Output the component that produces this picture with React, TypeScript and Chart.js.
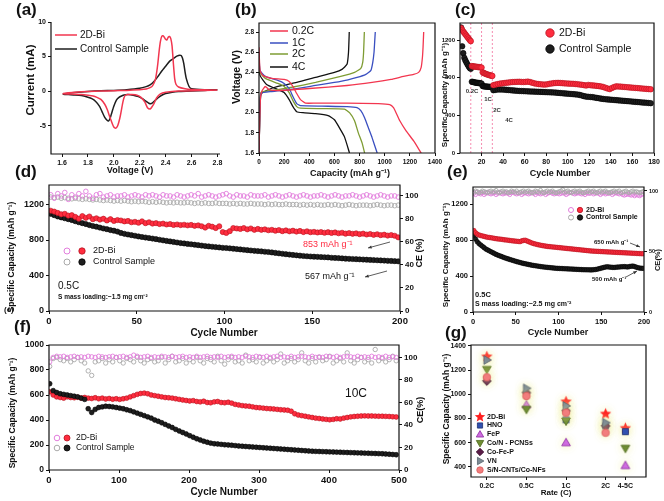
import React, { useEffect, useRef } from "react";
import { Chart, registerables } from "chart.js";

Chart.register(...registerables);

const FONT = "Arial, 'Liberation Sans', Helvetica, sans-serif";

// ================= (a) cyclic voltammetry: [voltage, current] =================
const cvBi: [number, number][] = [
  [2.8, 0.15], [2.7, 0.1], [2.6, 0.05], [2.5, 0], [2.45, -0.05], [2.4, -0.15], [2.36, -0.4], [2.33, -1.0],
  [2.31, -1.8], [2.29, -2.4], [2.28, -2.6], [2.26, -2.4], [2.24, -1.6], [2.21, -0.9], [2.18, -0.6], [2.14, -0.5],
  [2.11, -0.5], [2.09, -0.6], [2.08, -0.9], [2.07, -1.6], [2.06, -2.6], [2.05, -3.6], [2.04, -4.4], [2.03, -5.0],
  [2.02, -5.3], [2.01, -5.35], [2.0, -5.2], [1.99, -4.8], [1.97, -3.8], [1.95, -2.7], [1.93, -1.9], [1.9, -1.2],
  [1.87, -0.9], [1.84, -0.7], [1.8, -0.6], [1.75, -0.5], [1.7, -0.45], [1.65, -0.42], [1.61, -0.4],
  [1.61, -0.35], [1.65, -0.25], [1.7, -0.15], [1.8, -0.05], [1.9, 0], [2.0, 0.05], [2.1, 0.1], [2.2, 0.2],
  [2.25, 0.3], [2.28, 0.5], [2.3, 0.8], [2.32, 1.6], [2.33, 2.6], [2.34, 4.0], [2.35, 5.8], [2.36, 7.2],
  [2.37, 7.9], [2.38, 8.0], [2.39, 7.8], [2.4, 7.5], [2.41, 7.4], [2.42, 7.8], [2.43, 7.9], [2.44, 7.6],
  [2.45, 6.5], [2.46, 4.0], [2.47, 1.8], [2.48, 1.0], [2.5, 0.6], [2.55, 0.35], [2.6, 0.25], [2.7, 0.2], [2.8, 0.15],
];
const cvCtl: [number, number][] = [
  [2.8, 0.2], [2.7, 0.1], [2.6, 0.0], [2.5, -0.05], [2.45, -0.15], [2.4, -0.35], [2.37, -0.6], [2.34, -1.0],
  [2.31, -1.5], [2.29, -1.8], [2.27, -1.75], [2.25, -1.5], [2.22, -1.1], [2.19, -0.8], [2.15, -0.6], [2.11, -0.5],
  [2.08, -0.55], [2.06, -0.7], [2.04, -0.9], [2.02, -1.3], [2.0, -2.2], [1.98, -3.4], [1.97, -4.0], [1.96, -4.3],
  [1.95, -4.25], [1.93, -3.8], [1.91, -3.0], [1.89, -2.2], [1.86, -1.5], [1.83, -1.1], [1.8, -0.9], [1.75, -0.65],
  [1.7, -0.55], [1.65, -0.5], [1.61, -0.45],
  [1.61, -0.4], [1.65, -0.3], [1.7, -0.2], [1.8, -0.05], [1.9, 0.05], [2.0, 0.1], [2.1, 0.2], [2.2, 0.4],
  [2.25, 0.65], [2.28, 0.9], [2.31, 1.4], [2.34, 2.1], [2.37, 2.9], [2.4, 3.6], [2.43, 4.3], [2.46, 4.7],
  [2.48, 5.0], [2.5, 5.15], [2.51, 5.2], [2.52, 5.15], [2.53, 4.8], [2.54, 4.0], [2.55, 2.8], [2.56, 1.8],
  [2.58, 0.7], [2.6, 0.35], [2.7, 0.2], [2.8, 0.2],
];
const aXTicks = [1.6, 1.8, 2.0, 2.2, 2.4, 2.6, 2.8];
const aYTicks = [-5, 0, 5, 10];

// ================= (b) charge / discharge profiles: [capacity, voltage] =================
const b02Dis: [number, number][] = [[0, 2.65], [8, 2.42], [30, 2.37], [100, 2.34], [200, 2.33], [240, 2.31], [270, 2.26], [300, 2.19], [330, 2.13], [370, 2.095], [450, 2.095], [700, 2.095], [950, 2.09], [1040, 2.08], [1070, 2.05], [1090, 2.0], [1120, 1.92], [1170, 1.82], [1230, 1.72], [1290, 1.6]];
const b02Chg: [number, number][] = [[0, 1.6], [5, 1.9], [12, 2.15], [25, 2.22], [50, 2.26], [80, 2.23], [150, 2.22], [400, 2.24], [700, 2.27], [900, 2.3], [1050, 2.33], [1150, 2.36], [1230, 2.38], [1270, 2.4], [1290, 2.45], [1300, 2.55], [1305, 2.65], [1310, 2.8]];
const b1Dis: [number, number][] = [[0, 2.6], [8, 2.42], [50, 2.36], [150, 2.32], [200, 2.29], [240, 2.24], [270, 2.16], [300, 2.09], [330, 2.07], [500, 2.065], [700, 2.06], [780, 2.05], [810, 2.02], [840, 1.95], [870, 1.85], [900, 1.75], [940, 1.6]];
const b1Chg: [number, number][] = [[0, 1.6], [5, 1.9], [15, 2.19], [100, 2.21], [250, 2.23], [450, 2.27], [650, 2.31], [780, 2.35], [850, 2.38], [890, 2.42], [905, 2.5], [915, 2.6], [920, 2.7], [925, 2.8]];
const b2Dis: [number, number][] = [[0, 2.55], [8, 2.4], [50, 2.34], [150, 2.29], [200, 2.26], [240, 2.2], [270, 2.12], [300, 2.06], [330, 2.045], [500, 2.04], [680, 2.035], [720, 2.0], [760, 1.92], [790, 1.8], [820, 1.7], [840, 1.6]];
const b2Chg: [number, number][] = [[0, 1.6], [5, 1.9], [15, 2.2], [100, 2.22], [250, 2.25], [450, 2.3], [650, 2.36], [760, 2.4], [810, 2.44], [825, 2.5], [832, 2.6], [838, 2.8]];
const b4Dis: [number, number][] = [[0, 2.5], [8, 2.37], [60, 2.28], [150, 2.23], [200, 2.2], [240, 2.13], [270, 2.06], [300, 2.01], [350, 2.0], [450, 1.99], [550, 1.97], [600, 1.93], [640, 1.85], [680, 1.76], [720, 1.6]];
const b4Chg: [number, number][] = [[0, 1.6], [5, 1.9], [15, 2.18], [60, 2.22], [150, 2.26], [300, 2.3], [450, 2.35], [600, 2.4], [660, 2.43], [700, 2.48], [712, 2.6], [718, 2.8]];
const bRates = ["0.2C", "1C", "2C", "4C"];
const bXTicks = [0, 200, 400, 600, 800, 1000, 1200, 1400];
const bYTicks = [1.6, 1.8, 2.0, 2.2, 2.4, 2.6, 2.8];

// ================= (c) rate performance (cycles 1-30 each, then every 2nd cycle) =================
const cBiEarly = [1330, 1310, 1292, 1278, 1262, 1248, 1232, 1218, 1202, 1190, 925, 922, 921, 919, 917, 916, 914, 913, 911, 909, 858, 852, 846, 841, 837, 833, 829, 826, 823, 820];
const cCtlEarly = [1335, 1135, 1062, 1012, 985, 962, 942, 922, 905, 895, 758, 756, 753, 750, 748, 746, 745, 743, 741, 739, 712, 710, 708, 707, 706, 705, 704, 703, 702, 700];
const cBiLate = [722, 728, 733, 738, 741, 744, 747, 750, 753, 755, 756, 757, 758, 756, 755, 757, 759, 755, 748, 741, 736, 733, 731, 729, 728, 731, 736, 740, 743, 745, 746, 745, 743, 741, 740, 738, 737, 736, 734, 732, 729, 726, 722, 718, 724, 721, 719, 717, 714, 711, 708, 702, 694, 686, 680, 692, 702, 709, 708, 706, 704, 702, 700, 698, 696, 694, 692, 690, 688, 686, 684, 682, 680, 678];
const cCtlLate = [668, 672, 675, 676, 675, 674, 672, 670, 668, 666, 664, 662, 660, 659, 658, 657, 656, 655, 654, 653, 652, 651, 650, 649, 648, 647, 646, 645, 644, 642, 640, 638, 636, 634, 632, 630, 628, 626, 624, 622, 618, 612, 605, 600, 598, 596, 594, 590, 586, 582, 578, 575, 572, 570, 568, 566, 564, 562, 560, 558, 556, 554, 552, 550, 548, 546, 544, 542, 540, 538, 536, 534, 532, 530];
const cRateSwitch = [10, 20, 30];
const cRateLabels = ["0.2C", "1C", "2C", "4C"];
const cXTicks = [20, 40, 60, 80, 100, 120, 140, 160, 180];
const cYTicks = [0, 400, 800, 1200];

// ================= (d) 0.5C cycling, 1.5 mg cm-2 (every 2nd cycle) =================
const dBiCap = [1130, 1120, 1105, 1090, 1095, 1075, 1080, 1060, 1040, 1070, 1050, 1065, 1035, 1045, 1030, 1040, 1020, 1035, 1015, 1025, 1020, 1010, 1015, 1000, 1005, 995, 1010, 990, 1000, 985, 990, 980, 985, 975, 980, 970, 975, 968, 972, 965, 970, 960, 965, 955, 940, 960, 950, 935, 955, 890, 880, 900, 935, 930, 925, 935, 920, 930, 915, 925, 915, 920, 910, 915, 905, 912, 900, 908, 898, 905, 895, 902, 890, 898, 888, 892, 885, 890, 882, 888, 880, 885, 876, 882, 872, 878, 870, 875, 866, 872, 862, 868, 858, 865, 855, 860, 850, 856, 848, 830];
const dCtlCap = [1095, 1080, 1065, 1055, 1045, 1035, 1025, 1012, 1000, 990, 980, 968, 958, 950, 940, 930, 922, 912, 905, 895, 880, 870, 862, 855, 848, 840, 834, 828, 822, 816, 810, 803, 796, 790, 784, 778, 772, 766, 761, 756, 752, 747, 742, 737, 732, 728, 724, 720, 716, 712, 710, 706, 702, 698, 694, 690, 686, 682, 678, 675, 672, 668, 665, 660, 655, 650, 645, 640, 636, 632, 628, 624, 620, 617, 614, 612, 610, 608, 606, 604, 600, 598, 596, 593, 590, 588, 586, 584, 582, 580, 578, 576, 574, 572, 570, 568, 566, 564, 562, 560];
const dBiCE = [101, 98, 102, 100, 103, 97, 101, 99, 102, 100, 104, 100, 98, 101, 102, 99, 100, 101, 99, 100, 100, 101, 99, 100, 101, 100, 99, 101, 100, 101, 100, 99, 101, 100, 100, 99, 101, 100, 99, 100, 101, 100, 102, 99, 100, 101, 100, 99, 100, 101, 102, 100, 99, 101, 100, 100, 99, 101, 100, 100, 100, 101, 99, 100, 101, 100, 99, 100, 101, 100, 99, 100, 101, 100, 99, 100, 100, 101, 100, 99, 100, 101, 100, 99, 100, 100, 101, 100, 99, 100, 101, 100, 99, 100, 101, 100, 99, 100, 100, 99];
const dCtlCE = [99, 98.5, 99, 98, 98.5, 98, 97.5, 98, 97.5, 97, 97.5, 97, 96.5, 97, 96.5, 96, 96.5, 96, 95.5, 96, 95.5, 96, 95.5, 95, 95.5, 95, 95.5, 95, 94.5, 95, 94.5, 95, 94.5, 94, 94.5, 94, 94.5, 94, 94, 94.5, 94, 93.5, 94, 93.5, 94, 93.5, 93.5, 94, 93.5, 93.5, 93.5, 93, 93.5, 93, 93.5, 93, 93, 93.5, 93, 93, 93, 92.5, 93, 92.5, 93, 92.5, 92.5, 93, 92.5, 92.5, 92.5, 92, 92.5, 92, 92.5, 92, 92.5, 92, 92, 92.5, 92, 92.5, 92, 91.5, 92, 92.5, 92, 91.5, 92, 92, 92, 91.5, 92, 92.5, 92, 91.5, 92, 92, 91.5, 92];
const dXTicks = [0, 50, 100, 150, 200];
const dYTicks = [0, 400, 800, 1200];
const dCETicks = [0, 20, 40, 60, 80, 100];

// ================= (e) 0.5C cycling, 2.5 mg cm-2 (every 2nd cycle) =================
const eBiCap = [905, 880, 865, 855, 850, 845, 840, 835, 830, 828, 825, 822, 818, 815, 812, 810, 808, 805, 802, 800, 798, 795, 792, 790, 788, 786, 784, 782, 790, 795, 798, 790, 782, 774, 766, 760, 755, 750, 746, 742, 738, 735, 732, 729, 727, 725, 723, 721, 719, 717, 715, 713, 711, 709, 707, 705, 703, 701, 699, 697, 695, 693, 691, 689, 687, 685, 683, 681, 679, 677, 676, 675, 674, 673, 672, 671, 670, 669, 668, 667, 666, 665, 664, 663, 662, 661, 660, 659, 658, 657, 656, 655, 654, 653, 652, 651, 650, 649, 648, 647];
const eCtlCap = [850, 810, 780, 760, 745, 730, 715, 700, 690, 680, 670, 660, 650, 640, 632, 625, 618, 610, 603, 596, 590, 584, 578, 572, 566, 560, 555, 550, 545, 540, 536, 532, 528, 524, 520, 517, 514, 511, 508, 505, 502, 500, 498, 496, 494, 492, 490, 488, 486, 485, 484, 483, 482, 481, 480, 479, 478, 477, 476, 475, 474, 473, 472, 471, 470, 470, 469, 469, 468, 468, 470, 472, 475, 480, 485, 490, 495, 500, 502, 500, 498, 496, 495, 497, 499, 500, 502, 503, 504, 502, 500, 505, 508, 510, 505, 498, 492, 488, 486, 485];
const eBiCE = [98, 97, 99, 98, 97.5, 98.5, 97, 98, 99, 98, 97.5, 98, 98.5, 97, 98, 99, 98, 97.5, 98, 98.5, 98, 97, 98.5, 99, 98, 97.5, 98, 98.5, 97, 98, 98.5, 98, 97.5, 98, 99, 98, 97, 98.5, 98, 97.5, 98, 98.5, 97, 98, 98.5, 99, 98, 97.5, 98, 98, 97.5, 98, 98.5, 98, 97, 98, 98.5, 99, 98, 97.5, 98, 98.5, 98, 97.5, 98, 97, 98.5, 98, 98, 99, 97.5, 98, 98.5, 98, 97, 98, 98.5, 97.5, 98, 98, 98.5, 97, 98, 98.5, 98, 97.5, 98, 97, 96.5, 97, 97.5, 97, 96.5, 97, 96, 97, 96.5, 96, 97, 97.5];
const eCtlCE = [99, 100, 99.5, 98.5, 99, 100, 99.5, 99, 98.5, 99.5, 100, 99, 99.5, 100.5, 99, 98.5, 99.5, 100, 99, 99.5, 98.5, 99, 100, 99.5, 99, 100, 98.5, 99, 99.5, 100, 99, 99.5, 100, 99, 98.5, 99, 100, 99.5, 99, 100.5, 99, 98.5, 99.5, 100, 99, 99.5, 100, 99, 98.5, 99, 99.5, 100, 101, 99, 99.5, 100, 99, 98.5, 99.5, 100, 99, 99.5, 100, 99, 98.5, 99, 99.5, 100, 99, 99.5, 100, 99, 98.5, 99.5, 100, 99, 99.5, 100, 99, 98.5, 99, 99.5, 100, 99, 99.5, 100, 98.5, 99, 99.5, 100, 99, 98.5, 99.5, 100, 99, 99.5, 99, 98.5, 99, 99.5];
const eXTicks = [0, 50, 100, 150, 200];
const eYTicks = [0, 400, 800, 1200];
const eCETicks = [0, 50, 100];

// ================= (f) 10C cycling (every 5th cycle) =================
const fBiCap = [625, 600, 585, 580, 575, 585, 580, 578, 582, 576, 580, 575, 572, 578, 570, 575, 568, 572, 566, 570, 565, 570, 575, 585, 595, 605, 612, 615, 610, 600, 595, 590, 585, 580, 578, 575, 570, 565, 560, 556, 552, 555, 548, 545, 550, 540, 538, 545, 548, 540, 538, 542, 535, 525, 520, 515, 512, 510, 505, 500, 498, 495, 492, 490, 488, 485, 482, 480, 478, 470, 450, 440, 435, 430, 425, 420, 415, 412, 408, 405, 402, 405, 410, 408, 415, 420, 425, 428, 430, 432, 433, 432, 432, 431, 430, 430, 429, 428, 426, 424];
const fCtlCap = [690, 635, 620, 610, 605, 600, 595, 590, 585, 575, 565, 490, 460, 485, 500, 505, 510, 508, 505, 500, 495, 490, 482, 475, 465, 455, 445, 435, 425, 415, 400, 390, 378, 365, 352, 340, 325, 312, 300, 288, 275, 262, 250, 240, 230, 222, 215, 210, 208, 205, 202, 200, 198, 195, 192, 190, 188, 186, 184, 182, 180, 178, 176, 174, 172, 170, 168, 166, 164, 162, 160, 158, 156, 154, 152, 150, 149, 148, 147, 146, 145, 144, 143, 142, 141, 140, 139, 138, 137, 136, 135, 134, 133, 132, 131, 130, 128, 126, 124, 122];
const fBiCE = [96, 100, 101, 100.5, 101, 100, 100.5, 101, 100, 100.5, 100, 101, 100.5, 100, 101, 100.5, 100, 100.5, 101, 100, 100.5, 101, 100, 100.5, 102, 101, 100, 100.5, 101, 100, 100.5, 100, 101, 100.5, 100, 101, 100, 100.5, 101, 100, 100.5, 100, 101, 100, 100.5, 101, 100, 100.5, 100, 101, 100, 100.5, 101, 100, 100.5, 100, 101, 100.5, 100, 101, 100.5, 100, 101, 100, 100.5, 101, 100, 100.5, 100, 101, 100, 100.5, 101, 100.5, 100, 101, 100, 100.5, 100, 101, 100.5, 100, 101, 100, 100.5, 101, 100.5, 100, 101, 100, 100.5, 100, 101, 100, 100.5, 100, 101, 100, 100.5, 100];
const fCtlCE = [92, 99, 100, 98, 97, 99, 96, 98, 100, 97, 95, 88, 84, 96, 97, 99, 95, 98, 96, 100, 97, 95, 99, 98, 96, 100, 97, 95, 98, 99, 96, 97, 100, 95, 98, 101, 96, 97, 99, 95, 98, 96, 100, 97, 95, 99, 98, 96, 101, 97, 94, 98, 100, 96, 97, 95, 102, 97, 98, 96, 100, 95, 97, 99, 96, 98, 103, 95, 97, 99, 96, 98, 104, 97, 95, 99, 96, 100, 97, 98, 101, 95, 97, 99, 96, 104, 97, 95, 98, 100, 96, 98, 95, 107, 97, 99, 96, 98, 101, 97];
const fXTicks = [0, 100, 200, 300, 400, 500];
const fYTicks = [0, 200, 400, 600, 800, 1000];
const fCETicks = [0, 20, 40, 60, 80, 100];

// ================= (g) comparison with literature =================
const gRates = ["0.2C", "0.5C", "1C", "2C", "4-5C"];
const gRatePos = [1, 2, 3, 4, 4.5];
const gBi = [1311, null, 939, 838, 720];
const gHNO = [null, null, 790, 739, 692];
const gFeP = [null, 912, 600, null, 411];
const gCoN = [1207, 877, 780, null, 555];
const gCoFeP = [1110, 1014, 865, 739, null];
const gVN = [1284, 1050, 904, 766, null];
const gSNC = [1141, 986, 849, 683, null];
const gYTicks = [400, 600, 800, 1000, 1200, 1400];

// ================= colours =================
const RED = "#ff2d3f";
const RED_EDGE = "#b5121f";
const LINE_RED = "#f2364f";
const BLK = "#1e1e1e";
const PINK_CE = "#e27ddc";
const GRAY_CE = "#a9a9a9";

// ================= helpers =================
const pairs = (arr: [number, number][]) => arr.map(([x, y]) => ({ x, y }));
const series = (vals: number[], first: number, step: number) => vals.map((v, i) => ({ x: first + step * i, y: v }));
const rateSeries = (vals: (number | null)[]) =>
  gRatePos.map((x, i) => (vals[i] == null ? null : { x, y: vals[i] as number })).filter(Boolean);

function drawMark(ctx: CanvasRenderingContext2D, style: string, x: number, y: number, r: number, fill?: string | null, stroke?: string | null, lw = 0.8) {
  ctx.beginPath();
  if (style === "circle") ctx.arc(x, y, r, 0, Math.PI * 2);
  else if (style === "rect") ctx.rect(x - r * 0.85, y - r * 0.85, r * 1.7, r * 1.7);
  else if (style === "diamond") {
    ctx.moveTo(x, y - r * 1.1); ctx.lineTo(x + r * 1.1, y); ctx.lineTo(x, y + r * 1.1); ctx.lineTo(x - r * 1.1, y);
  } else if (style === "tri") {
    ctx.moveTo(x, y - r); ctx.lineTo(x + r * 0.95, y + r * 0.65); ctx.lineTo(x - r * 0.95, y + r * 0.65);
  } else if (style === "triDown") {
    ctx.moveTo(x, y + r); ctx.lineTo(x + r * 0.95, y - r * 0.65); ctx.lineTo(x - r * 0.95, y - r * 0.65);
  } else if (style === "triRight") {
    ctx.moveTo(x + r, y); ctx.lineTo(x - r * 0.65, y - r * 0.95); ctx.lineTo(x - r * 0.65, y + r * 0.95);
  } else if (style === "star") {
    for (let k = 0; k < 10; k++) {
      const ang = -Math.PI / 2 + (k * Math.PI) / 5;
      const rr = k % 2 === 0 ? r : r * 0.45;
      const px = x + rr * Math.cos(ang);
      const py = y + rr * Math.sin(ang);
      if (k === 0) ctx.moveTo(px, py); else ctx.lineTo(px, py);
    }
  }
  ctx.closePath();
  if (fill) { ctx.fillStyle = fill; ctx.fill(); }
  if (stroke) { ctx.strokeStyle = stroke; ctx.lineWidth = lw; ctx.stroke(); }
}

function markerCanvas(style: string, r: number, fill: string, stroke: string | null) {
  const c = document.createElement("canvas");
  const s = Math.ceil(r * 2.4 + 4);
  c.width = s; c.height = s;
  const ctx = c.getContext("2d")!;
  drawMark(ctx, style, s / 2, s / 2, r, fill, stroke, 0.8);
  return c;
}

const lineDs = (label: string, data: any[], color: string, width = 1.5) => ({
  label, data, showLine: true, borderColor: color, backgroundColor: color, borderWidth: width, pointRadius: 0, tension: 0.15,
});
const dotDs = (label: string, data: any[], fill: string, stroke: string, r: number, axis = "y", bw = 0.6) => ({
  label, data, yAxisID: axis, showLine: false, pointRadius: r, pointBackgroundColor: fill, pointBorderColor: stroke,
  pointBorderWidth: bw, backgroundColor: fill, borderColor: stroke,
});
const hollowDs = (label: string, data: any[], color: string, r: number, axis = "y2") => ({
  label, data, yAxisID: axis, showLine: false, pointRadius: r, pointBackgroundColor: "rgba(255,255,255,0)",
  pointBorderColor: color, pointBorderWidth: 0.9, backgroundColor: "rgba(255,255,255,0)", borderColor: color,
});

// decor items (page coordinates)
const T = (x: number, y: number, s: string, f: string, extra: any = {}) => ({ t: "text", x, y, s, f, ...extra });
const L = (x1: number, y1: number, x2: number, y2: number, c: string, w = 1.5) => ({ t: "line", x1, y1, x2, y2, c, w });
const A = (x1: number, y1: number, x2: number, y2: number, c = "#333") => ({ t: "arrow", x1, y1, x2, y2, c });
const M = (x: number, y: number, style: string, r: number, fill: string | null, stroke: string | null, lw = 0.8) => ({ t: "mark", x, y, style, r, fill, stroke, lw });

function decorPlugin(p: any) {
  const [cx, cy] = p.canvas;
  return {
    id: "decor",
    beforeDatasetsDraw(chart: any) {
      const ctx = chart.ctx;
      const a = chart.chartArea;
      if (p.vlines) {
        ctx.save();
        ctx.strokeStyle = "#f58cb0";
        ctx.lineWidth = 1;
        ctx.setLineDash([2, 2]);
        for (const v of p.vlines) {
          const px = chart.scales.x.getPixelForValue(v);
          ctx.beginPath(); ctx.moveTo(px, a.top); ctx.lineTo(px, a.bottom); ctx.stroke();
        }
        ctx.restore();
      }
      if (p.glow) {
        ctx.save();
        ctx.shadowColor = "rgba(238,238,150,0.95)";
        ctx.shadowBlur = 9;
      }
    },
    afterDatasetsDraw(chart: any) {
      const ctx = chart.ctx;
      if (p.glow) ctx.restore();
      const a = chart.chartArea;
      ctx.save();
      ctx.strokeStyle = "#111";
      ctx.lineWidth = 1.2;
      ctx.beginPath();
      if (p.frame === "lb") {
        ctx.moveTo(a.left, a.top); ctx.lineTo(a.left, a.bottom); ctx.lineTo(a.right, a.bottom);
      } else {
        ctx.rect(a.left, a.top, a.right - a.left, a.bottom - a.top);
      }
      ctx.stroke();
      ctx.restore();
    },
    afterDraw(chart: any) {
      const ctx = chart.ctx;
      for (const it of p.items) {
        ctx.save();
        if (it.t === "text") {
          ctx.font = it.f + " " + FONT;
          ctx.fillStyle = it.c || "#111";
          ctx.textAlign = it.a || "left";
          ctx.textBaseline = "middle";
          ctx.translate(it.x - cx, it.y - cy);
          if (it.rot) ctx.rotate((it.rot * Math.PI) / 180);
          ctx.fillText(it.s, 0, 0);
        } else if (it.t === "line") {
          ctx.strokeStyle = it.c; ctx.lineWidth = it.w;
          ctx.beginPath(); ctx.moveTo(it.x1 - cx, it.y1 - cy); ctx.lineTo(it.x2 - cx, it.y2 - cy); ctx.stroke();
        } else if (it.t === "arrow") {
          const x1 = it.x1 - cx, y1 = it.y1 - cy, x2 = it.x2 - cx, y2 = it.y2 - cy;
          ctx.strokeStyle = it.c; ctx.fillStyle = it.c; ctx.lineWidth = 0.8;
          ctx.beginPath(); ctx.moveTo(x1, y1); ctx.lineTo(x2, y2); ctx.stroke();
          const ang = Math.atan2(y2 - y1, x2 - x1);
          ctx.beginPath();
          ctx.moveTo(x2, y2);
          ctx.lineTo(x2 - 4 * Math.cos(ang - 0.4), y2 - 4 * Math.sin(ang - 0.4));
          ctx.lineTo(x2 - 4 * Math.cos(ang + 0.4), y2 - 4 * Math.sin(ang + 0.4));
          ctx.closePath(); ctx.fill();
        } else if (it.t === "mark") {
          drawMark(ctx, it.style, it.x - cx, it.y - cy, it.r, it.fill, it.stroke, it.lw);
        }
        ctx.restore();
      }
    },
  };
}

function axisOpts(spec: any, position: string, fitKey: "w" | "h", fitVal: number) {
  return {
    type: "linear",
    position,
    min: spec.min,
    max: spec.max,
    afterBuildTicks: (s: any) => { s.ticks = spec.ticks.map((v: number) => ({ value: v })); },
    afterFit: (s: any) => { if (fitKey === "w") s.width = fitVal; else s.height = fitVal; },
    ticks: {
      autoSkip: false,
      maxRotation: 0,
      padding: 2,
      color: "#111",
      font: { family: FONT, size: spec.font, weight: "bold" },
      callback: (v: number) => (spec.fmt ? spec.fmt(v) : String(v)),
    },
    grid: { display: true, drawOnChartArea: false, drawTicks: true, tickLength: 3, color: "#111", lineWidth: 1 },
    border: { display: false },
    title: { display: false },
  };
}

function buildConfig(p: any) {
  const [cx, cy, cw, ch] = p.canvas;
  const [px1, py1, px2, py2] = p.plot;
  const scales: any = {
    x: axisOpts(p.x, "bottom", "h", cy + ch - py2),
    y: axisOpts(p.y, "left", "w", px1 - cx),
  };
  if (p.y2) scales.y2 = axisOpts(p.y2, "right", "w", cx + cw - px2);
  return {
    type: "scatter",
    data: { datasets: p.datasets },
    options: {
      responsive: false,
      animation: false,
      events: [],
      layout: { padding: { left: 0, top: py1 - cy, right: p.y2 ? 0 : cx + cw - px2, bottom: 0 } },
      plugins: { legend: { display: false }, tooltip: { enabled: false }, title: { display: false } },
      scales,
    },
    plugins: [decorPlugin(p)],
  };
}

const f1 = (v: number) => v.toFixed(1);
const CAP = "Specific Capacity (mAh g\u207B\u00B9)";

// ================= panel specs =================
function specA() {
  return {
    canvas: [0, 0, 240, 182], plot: [51, 22, 220, 154], frame: "lb",
    x: { min: 1.515, max: 2.82, ticks: aXTicks, fmt: f1, font: 7 },
    y: { min: -9.1, max: 10, ticks: aYTicks, font: 7 },
    datasets: [lineDs("2D-Bi", pairs(cvBi), LINE_RED), lineDs("Control Sample", pairs(cvCtl), BLK)],
    items: [
      T(16, 10, "(a)", "bold 17px"),
      T(31, 80, "Current (mA)", "bold 11.5px", { a: "center", rot: -90 }),
      T(130, 171, "Voltage (V)", "bold 9px", { a: "center" }),
      L(55, 35, 77, 35, LINE_RED), T(80, 35, "2D-Bi", "10px"),
      L(55, 49, 77, 49, BLK), T(80, 49, "Control Sample", "10px"),
    ],
  };
}

function specB() {
  const cols = [LINE_RED, "#3a4fc0", "#7e9c33", "#111"];
  const dis = [b02Dis, b1Dis, b2Dis, b4Dis];
  const chg = [b02Chg, b1Chg, b2Chg, b4Chg];
  const datasets: any[] = [];
  bRates.forEach((r, i) => {
    datasets.push(lineDs(r, pairs(dis[i]), cols[i], 1.3));
    datasets.push(lineDs(r, pairs(chg[i]), cols[i], 1.3));
  });
  const items: any[] = [
    T(235, 10, "(b)", "bold 17px"),
    T(237, 77, "Voltage (V)", "bold 10.5px", { a: "center", rot: -90 }),
    T(350, 174, "Capacity (mAh g\u207B\u00B9)", "bold 9px", { a: "center" }),
  ];
  const ly = [31, 43, 54, 67];
  bRates.forEach((r, i) => { items.push(L(270, ly[i], 288, ly[i], cols[i])); items.push(T(292, ly[i], r, "10.5px")); });
  return {
    canvas: [222, 0, 226, 182], plot: [259, 23, 435, 153], frame: "box",
    x: { min: 0, max: 1400, ticks: bXTicks, font: 6.5 },
    y: { min: 1.6, max: 2.89, ticks: bYTicks, fmt: f1, font: 6.5 },
    datasets, items,
  };
}

function specC() {
  const bi = series(cBiEarly, 1, 1).concat(series(cBiLate, 31, 2));
  const ctl = series(cCtlEarly, 1, 1).concat(series(cCtlLate, 31, 2));
  return {
    canvas: [440, 0, 224, 182], plot: [460, 23, 654, 153], frame: "box", vlines: cRateSwitch,
    x: { min: 0, max: 180, ticks: cXTicks, font: 7 },
    y: { min: 0, max: 1383, ticks: cYTicks, font: 6 },
    datasets: [dotDs("2D-Bi", bi, RED, RED_EDGE, 2.8), dotDs("Control Sample", ctl, BLK, "#000", 2.8)],
    items: [
      T(455, 10, "(c)", "bold 17px"),
      T(445, 95, CAP, "bold 8px", { a: "center", rot: -90 }),
      T(560, 174, "Cycle Number", "bold 9px", { a: "center" }),
      M(550, 33, "circle", 4.2, RED, RED_EDGE), T(559, 33, "2D-Bi", "10.5px"),
      M(550, 49, "circle", 4.2, BLK, "#000"), T(559, 49, "Control Sample", "10.5px"),
      T(472, 91, cRateLabels[0], "bold 6px", { a: "center", c: "#333" }),
      T(488, 99, cRateLabels[1], "bold 6px", { a: "center", c: "#333" }),
      T(497, 110, cRateLabels[2], "bold 6px", { a: "center", c: "#333" }),
      T(509, 120, cRateLabels[3], "bold 6px", { a: "center", c: "#333" }),
    ],
  };
}

function specD() {
  return {
    canvas: [0, 160, 440, 180], plot: [49, 185, 400, 311], frame: "box",
    x: { min: 0, max: 200, ticks: dXTicks, font: 9.5 },
    y: { min: 0, max: 1420, ticks: dYTicks, font: 9 },
    y2: { min: 0, max: 109.5, ticks: dCETicks, font: 8 },
    datasets: [
      hollowDs("2D-Bi CE", series(dBiCE, 1, 2), PINK_CE, 2.3),
      hollowDs("Control CE", series(dCtlCE, 1, 2), GRAY_CE, 2.3),
      dotDs("2D-Bi", series(dBiCap, 1, 2), RED, RED_EDGE, 2.6),
      dotDs("Control Sample", series(dCtlCap, 1, 2), BLK, "#000", 2.6),
    ],
    items: [
      T(15, 172, "(d)", "bold 17px"),
      T(12, 257, CAP, "bold 8.5px", { a: "center", rot: -90 }),
      T(420, 253, "CE (%)", "bold 9px", { a: "center", rot: -90 }),
      T(224, 333, "Cycle Number", "bold 10px", { a: "center" }),
      M(67, 251, "circle", 3, null, PINK_CE, 1), M(82, 251, "circle", 3.2, RED, RED_EDGE), T(93, 251, "2D-Bi", "9px"),
      M(67, 262, "circle", 3, null, GRAY_CE, 1), M(82, 262, "circle", 3.2, BLK, "#000"), T(93, 262, "Control Sample", "9px"),
      T(303, 245, "853 mAh g\u207B\u00B9", "9px", { c: "#ff2a40" }),
      A(390, 242, 368, 248),
      T(305, 277, "567 mAh g\u207B\u00B9", "9px"),
      A(387, 271, 365, 277),
      T(58, 286, "0.5C", "10px"),
      T(58, 297, "S mass loading:~1.5 mg cm\u207B\u00B2", "bold 6.5px"),
      T(4, 310, "(e)", "bold 8px"),
    ],
  };
}

function specE() {
  return {
    canvas: [440, 160, 224, 180], plot: [473, 187, 644, 312], frame: "box",
    x: { min: 0, max: 200, ticks: eXTicks, font: 7.5 },
    y: { min: 0, max: 1389, ticks: eYTicks, font: 7.5 },
    y2: { min: 0, max: 103.3, ticks: eCETicks, font: 5.5 },
    datasets: [
      hollowDs("Control CE", series(eCtlCE, 1, 2), GRAY_CE, 2),
      hollowDs("2D-Bi CE", series(eBiCE, 1, 2), PINK_CE, 2),
      dotDs("2D-Bi", series(eBiCap, 1, 2), RED, RED_EDGE, 2.3),
      dotDs("Control Sample", series(eCtlCap, 1, 2), BLK, "#000", 2.3),
    ],
    items: [
      T(447, 172, "(e)", "bold 17px"),
      T(446, 255, CAP, "bold 8px", { a: "center", rot: -90 }),
      T(658, 260, "CE(%)", "bold 7.5px", { a: "center", rot: -90 }),
      T(558, 333, "Cycle Number", "bold 9px", { a: "center" }),
      M(571, 210, "circle", 2.5, null, PINK_CE, 1), M(580, 210, "circle", 2.7, RED, RED_EDGE), T(586, 210, "2D-Bi", "bold 7px"),
      M(571, 217.5, "circle", 2.5, null, GRAY_CE, 1), M(580, 217.5, "circle", 2.7, BLK, "#000"), T(586, 217.5, "Control Sample", "bold 7px"),
      T(594, 242, "650 mAh g\u207B\u00B9", "bold 6px"),
      A(630, 243, 640, 247),
      T(592, 279, "500 mAh g\u207B\u00B9", "bold 6px"),
      A(626, 277, 637, 271),
      T(475, 295, "0.5C", "bold 7.5px"),
      T(475, 304, "S mass loading:~2.5 mg cm\u207B\u00B2", "bold 7px"),
    ],
  };
}

function specF() {
  return {
    canvas: [0, 320, 440, 181], plot: [49, 345, 399, 470], frame: "box",
    x: { min: 0, max: 500, ticks: fXTicks, font: 9.5 },
    y: { min: 0, max: 1000, ticks: fYTicks, font: 8.5 },
    y2: { min: 0, max: 111, ticks: fCETicks, font: 8 },
    datasets: [
      hollowDs("2D-Bi CE", series(fBiCE, 1, 5), PINK_CE, 2.2),
      hollowDs("Control CE", series(fCtlCE, 1, 5), GRAY_CE, 2.2),
      dotDs("Control Sample", series(fCtlCap, 1, 5), BLK, "#000", 2.4),
      dotDs("2D-Bi", series(fBiCap, 1, 5), RED, RED_EDGE, 2.4),
    ],
    items: [
      T(14, 327, "(f)", "bold 17px"),
      T(13, 413, CAP, "bold 8.5px", { a: "center", rot: -90 }),
      T(421, 410, "CE(%)", "bold 9px", { a: "center", rot: -90 }),
      T(224, 492, "Cycle Number", "bold 10px", { a: "center" }),
      M(57, 438, "circle", 2.8, null, PINK_CE, 1), M(67, 438, "circle", 3, RED, RED_EDGE), T(76, 438, "2D-Bi", "8.5px"),
      M(57, 448, "circle", 2.8, null, GRAY_CE, 1), M(67, 448, "circle", 3, BLK, "#000"), T(76, 448, "Control Sample", "8.5px"),
      T(345, 394, "10C", "12px"),
    ],
  };
}

function specG() {
  const defs = [
    { label: "2D-Bi", vals: gBi, style: "star", r: 6, fill: "#ff1f1f", stroke: null },
    { label: "HNO", vals: gHNO, style: "rect", r: 3.6, fill: "#3050b0", stroke: "#1d2f70" },
    { label: "FeP", vals: gFeP, style: "tri", r: 4.6, fill: "#cf6ce0", stroke: "#8a2aa0" },
    { label: "Co/N - PCNSs", vals: gCoN, style: "triDown", r: 4.6, fill: "#6f8d33", stroke: "#4e6a1d" },
    { label: "Co-Fe-P", vals: gCoFeP, style: "diamond", r: 4, fill: "#5a1c47", stroke: "#3a0c2c" },
    { label: "VN", vals: gVN, style: "triRight", r: 4.6, fill: "#7d8b94", stroke: "#5a666e" },
    { label: "S/N-CNTs/Co-NFs", vals: gSNC, style: "circle", r: 3.8, fill: "#f27d7d", stroke: "#d85a5a" },
  ];
  const datasets = defs.map((d) => ({
    label: d.label,
    data: rateSeries(d.vals),
    showLine: false,
    pointStyle: markerCanvas(d.style, d.r, d.fill, d.stroke),
    pointRadius: d.r,
  }));
  datasets.reverse();
  const items: any[] = [
    T(445, 333, "(g)", "bold 17px"),
    T(447, 409, CAP, "bold 8.5px", { a: "center", rot: -90 }),
    T(556, 493, "Rate (C)", "bold 8px", { a: "center" }),
  ];
  const rows = [417, 425.5, 434.5, 443, 452, 461, 470];
  defs.forEach((d, i) => {
    items.push(M(480, rows[i], d.style, d.style === "star" ? 5.5 : d.r * 0.85, d.fill, d.stroke));
    items.push(T(487, rows[i], d.label, "bold 7px"));
  });
  return {
    canvas: [440, 320, 224, 181], plot: [471, 345, 646, 477], frame: "box", glow: true,
    x: { min: 0.6, max: 5.02, ticks: gRatePos, font: 7, fmt: (v: number) => gRates[gRatePos.indexOf(v)] ?? "" },
    y: { min: 317, max: 1408, ticks: gYTicks, font: 7 },
    datasets, items,
  };
}

function Panel({ make }: { make: () => any }) {
  const ref = useRef<HTMLCanvasElement | null>(null);
  const spec = make();
  const [cx, cy, cw, ch] = spec.canvas;
  useEffect(() => {
    if (!ref.current) return;
    const chart = new Chart(ref.current, buildConfig(make()) as any);
    return () => chart.destroy();
  }, []);
  return (
    <canvas
      ref={ref}
      width={cw}
      height={ch}
      style={{ position: "absolute", left: cx, top: cy, width: cw, height: ch, display: "block" }}
    />
  );
}

const MAKERS = [specA, specB, specC, specD, specE, specF, specG];

export default function App() {
  return (
    <div style={{ position: "fixed", left: 0, top: 0, width: 664, height: 501, background: "#fff", overflow: "hidden" }}>
      {MAKERS.map((m, i) => (
        <Panel key={i} make={m} />
      ))}
    </div>
  );
}
